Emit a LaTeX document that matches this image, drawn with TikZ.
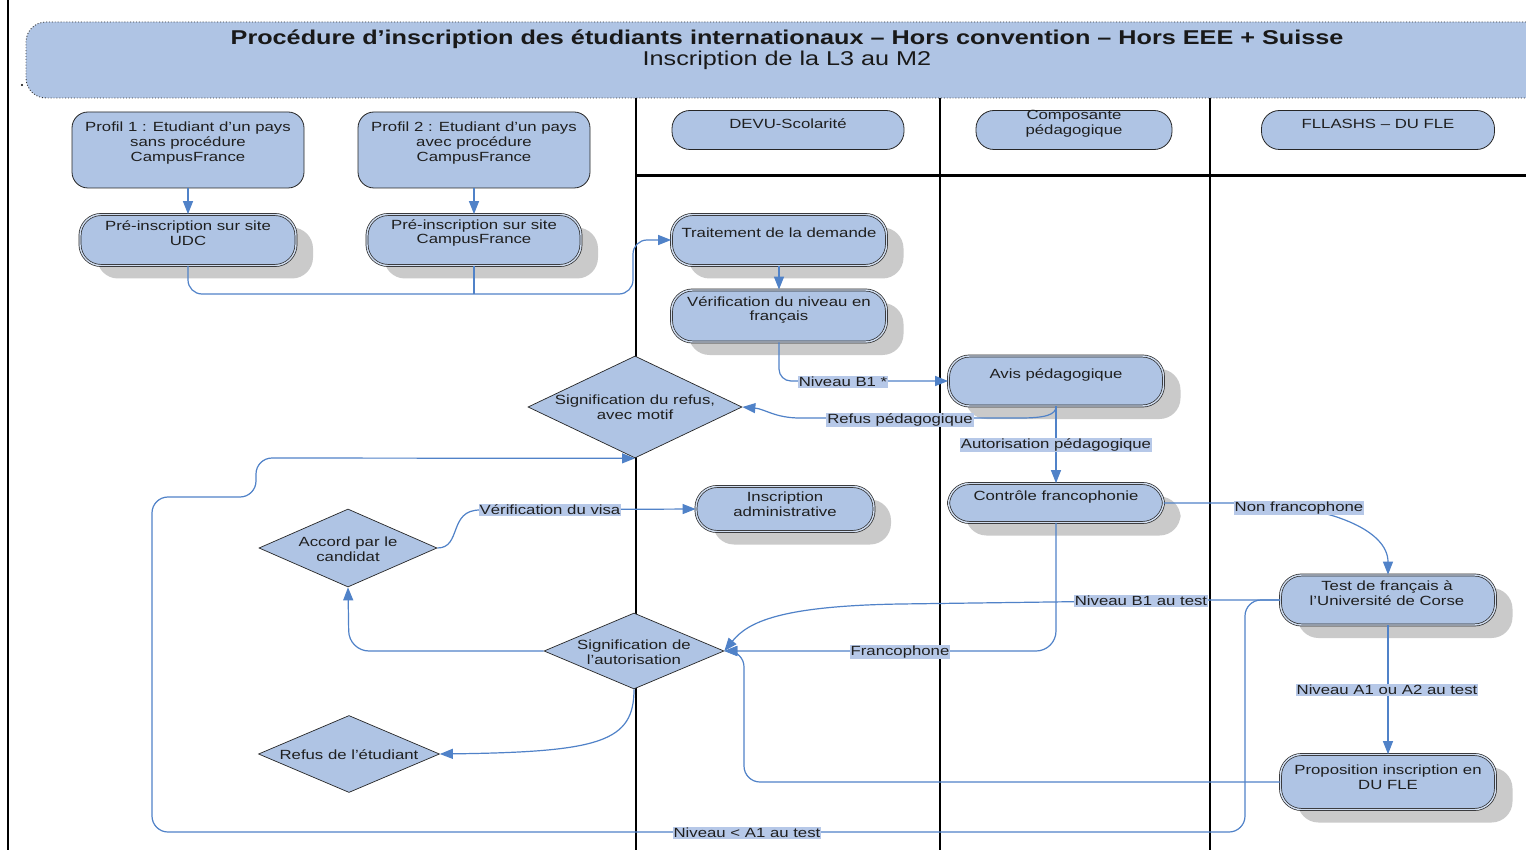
\documentclass[tikz,border=0pt]{standalone}
\usepackage{fontspec}
\setmainfont[FakeStretch=1.26]{Liberation Sans}
\usetikzlibrary{arrows.meta,shapes.geometric,shadows}
\definecolor{boxblue}{RGB}{175,196,228}
\definecolor{lineblue}{RGB}{80,130,200}
\definecolor{lblbg}{RGB}{182,200,232}
\definecolor{shadowgray}{RGB}{202,202,202}
\begin{document}
\begin{tikzpicture}[x=1pt,y=-1pt,
  txt/.style={font=\fontsize{13.3}{14.7}\selectfont, align=center, inner sep=0pt, text=black!88, yshift=-2pt},
  lbl/.style={font=\fontsize{13.3}{14.7}\selectfont, fill=lblbg, inner sep=1pt, text=black!88, yshift=-1pt},
  pillbox/.style={draw=black!85, line width=0.7pt, double=boxblue!60!white, double distance=1.4pt,
     fill=boxblue, rounded corners=21pt, inner sep=0pt,
     drop shadow={shadow xshift=17pt, shadow yshift=-13pt, fill=shadowgray, opacity=1}},
  headbox/.style={draw=black!85, line width=0.8pt, fill=boxblue, rounded corners=18pt, inner sep=0pt,
     minimum height=39pt},
  profbox/.style={draw=black!85, line width=0.8pt, fill=boxblue, rounded corners=16pt, inner sep=0pt,
     minimum width=232pt, minimum height=76pt},
  dia/.style={diamond, draw=black!85, line width=0.7pt, fill=boxblue, inner sep=0pt},
  conn/.style={draw=lineblue, line width=1.2pt},
  arr/.style={conn, -{Triangle[length=13pt,width=10pt]}},
  lane/.style={draw=black, line width=2pt}]
\useasboundingbox (0,0) rectangle (1526,850);
\clip (0,0) rectangle (1526,850);
\fill[white] (0,0) rectangle (1526,850);

% left border line
\draw[black, line width=1.8pt] (8,0) -- (8,850);
\fill[black] (22,85) circle (1.2pt);

% banner
\node[draw=black!80, dotted, line width=0.9pt, fill=boxblue, rounded corners=20pt,
      minimum width=1520pt, minimum height=76pt, inner sep=0pt] (banner) at (786,60) {};
\node[font=\fontsize{20}{22}\selectfont\bfseries, inner sep=0pt, text=black!90] (t1) at (787,39)
  {Procédure d’inscription des étudiants internationaux – Hors convention – Hors EEE + Suisse};
\node[font=\fontsize{20}{22}\selectfont, inner sep=0pt, text=black!90] (t2) at (787,60)
  {Inscription de la L3 au M2};

% lanes
\draw[lane] (636,98) -- (636,850);
\draw[lane] (940,98) -- (940,850);
\draw[lane] (1210,98) -- (1210,850);
\draw[black, line width=3pt] (636,176) -- (1526,176);

% headers
\node[headbox, minimum width=232pt] (devu) at (788,130) {};
\node[txt] at (788,122) {DEVU-Scolarité};
\node[headbox, minimum width=196pt] (comp) at (1074,130) {};
\node[txt] at (1074,122) {Composante\\pédagogique};
\node[headbox, minimum width=233pt] (flle) at (1378,130) {};
\node[txt] at (1378,122) {FLLASHS – DU FLE};

% profiles
\node[profbox] (p1) at (188,150) {};
\node[txt] at (188,141) {Profil 1 : Etudiant d’un pays\\sans procédure\\CampusFrance};
\node[profbox] (p2) at (474,150) {};
\node[txt] at (474,141) {Profil 2 : Etudiant d’un pays\\avec procédure\\CampusFrance};

% activity boxes
\node[pillbox, minimum width=216pt, minimum height=51pt] (udc) at (188,240) {};
\node[txt] at (188,231) {Pré-inscription sur site\\UDC};
\node[pillbox, minimum width=214pt, minimum height=51pt] (cfp) at (474,240) {};
\node[txt] at (474,231) {Pré-inscription sur site\\CampusFrance};
\node[pillbox, minimum width=215pt, minimum height=51pt] (trait) at (779,240) {};
\node[txt] at (779,231) {Traitement de la demande};
\node[pillbox, minimum width=215pt, minimum height=52pt] (verif) at (779,316) {};
\node[txt] at (779,308) {Vérification du niveau en\\français};
\node[pillbox, minimum width=215pt, minimum height=50pt] (avis) at (1056,381) {};
\node[txt] at (1056,373) {Avis pédagogique};
\node[pillbox, minimum width=215pt, minimum height=39pt] (ctrl) at (1056,503) {};
\node[txt] at (1056,495) {Contrôle francophonie};
\node[pillbox, minimum width=178pt, minimum height=45pt] (insc) at (785,509) {};
\node[txt] at (785,502) {Inscription\\administrative};
\node[pillbox, minimum width=215pt, minimum height=50pt] (test) at (1388,600) {};
\node[txt] at (1387,591) {Test de français à\\l’Université de Corse};
\node[pillbox, minimum width=215pt, minimum height=55pt] (prop) at (1388,782) {};
\node[txt] at (1388,775) {Proposition inscription en\\DU FLE};

% diamonds
\node[dia, minimum width=214pt, minimum height=102pt] (srefus) at (635,407) {};
\node[txt] at (635,405) {Signification du refus,\\avec motif};
\node[dia, minimum width=178pt, minimum height=78pt] (accord) at (348,548) {};
\node[txt] at (348,547) {Accord par le\\candidat};
\node[dia, minimum width=180pt, minimum height=76pt] (saut) at (634,651) {};
\node[txt] at (634,650) {Signification de\\l’autorisation};
\node[dia, minimum width=181pt, minimum height=77pt] (retud) at (349,754) {};
\node[txt] at (349,753) {Refus de l’étudiant};

% connectors
\draw[arr] (p1.south) -- (udc.north);
\draw[arr] (p2.south) -- (cfp.north);
\draw[arr, rounded corners=14pt] (udc.south) -- (188,294) -- (633,294) -- (633,240) -- (trait.west);
\draw[conn] (cfp.south) -- (474,294);
\draw[arr] (trait.south) -- (verif.north);
\draw[arr, rounded corners=12pt] (verif.south) -- (779,381) -- (avis.west);
\draw[arr] (avis.south) .. controls (1056,415) and (1045,418) .. (1020,418) -- (800,418)
   .. controls (775,418) and (765,409) .. (srefus.east);
\draw[arr] (avis.south) -- (ctrl.north);
\draw[arr] (ctrl.east) -- (1250,503) .. controls (1330,506) and (1388,530) .. (test.north);
\draw[arr, rounded corners=20pt] (ctrl.south) -- (1056,651) -- (saut.east);
\draw[arr] (test.west) -- (1200,600) -- (900,604) .. controls (780,606) and (748,622) .. (saut.east);
\draw[arr] (test.south) -- (prop.north);
\draw[arr, rounded corners=16pt] (prop.west) -- (744,782) -- (744,651) -- (saut.east);
\draw[arr, rounded corners=16pt] (test.west) -- (1245,600) -- (1245,832) -- (152,832) -- (152,497)
   -- (256,497) -- (256,458) -- (srefus.south);
\draw[arr, rounded corners=20pt] (saut.west) -- (349,651) -- (accord.south);
\draw[arr] (accord.east) .. controls (462,548) and (448,510) .. (480,510) -- (insc.west);
\draw[arr] (saut.south) .. controls (634,742) and (600,752) .. (retud.east);

% labels
\node[lbl] at (843,381) {Niveau B1 *};
\node[lbl] at (900,419) {Refus pédagogique};
\node[lbl] at (1056,444) {Autorisation pédagogique};
\node[lbl] at (1299,507) {Non francophone};
\node[lbl] at (900,651) {Francophone};
\node[lbl] at (1141,600) {Niveau B1 au test};
\node[lbl] at (1387,689) {Niveau A1 ou A2 au test};
\node[lbl] at (747,832) {Niveau < A1 au test};
\node[lbl] at (550,509) {Vérification du visa};
\end{tikzpicture}
\end{document}
